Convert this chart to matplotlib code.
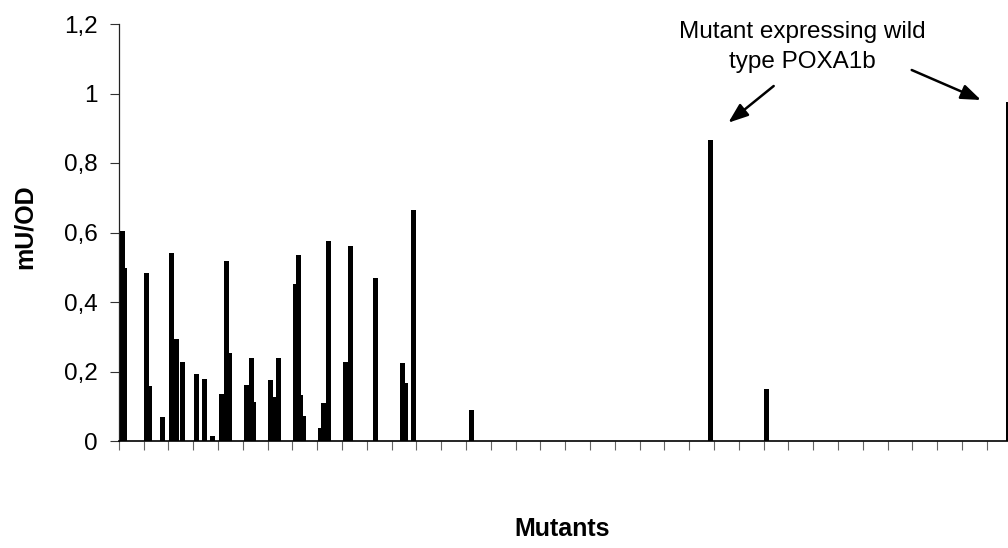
import matplotlib
matplotlib.use("Agg")
import matplotlib.pyplot as plt
from matplotlib.ticker import FuncFormatter
import numpy as np

plt.rcParams['font.family'] = ['Liberation Sans', 'DejaVu Sans']

# ---- data ----
mutant_group = [0, 0, 1, 1, 1, 2, 2, 2, 3, 3, 3, 4, 4, 4, 5, 5, 5, 6, 6, 6,
                7, 7, 7, 7, 8, 8, 8, 9, 9, 10, 11, 11, 11, 14, 23, 26, 35]
series_slot = [1, 2, 1, 2, 7, 1, 3, 5, 1, 4, 7, 1, 3, 4, 1, 3, 4, 1, 2, 4,
               1, 2, 3, 4, 1, 2, 4, 1, 3, 3, 4, 5, 8, 2, 8, 1, 8]
activity = [0.605, 0.497, 0.483, 0.158, 0.068, 0.542, 0.293, 0.228,
            0.193, 0.177, 0.015, 0.134, 0.517, 0.254, 0.162, 0.240, 0.113,
            0.175, 0.128, 0.238, 0.451, 0.534, 0.132, 0.073, 0.036, 0.110,
            0.576, 0.226, 0.560, 0.468, 0.225, 0.166, 0.664, 0.088, 0.866,
            0.150, 0.976]
y_ticks = [0, 0.2, 0.4, 0.6, 0.8, 1.0, 1.2]
n_categories = 36
annotation_lines = ["Mutant expressing wild", "type POXA1b"]
x_title = "Mutants"
y_title = "mU/OD"

# ---- figure ----
W, H = 1008, 548
fig = plt.figure(figsize=(W / 100, H / 100), dpi=100)
left_px, right_px, top_px, base_px = 118.7, 1008, 24, 441
ax = fig.add_axes([left_px / W, 1 - base_px / H,
                   (right_px - left_px) / W, (base_px - top_px) / H])

cat_px = 24.8
slot_w = 0.105
bar_w = 0.2
for g, s, v in zip(mutant_group, series_slot, activity):
    xc = g + 0.03 + slot_w * s
    ax.bar(xc, v, width=bar_w, color='black', edgecolor='none',
           zorder=2 + v)

ax.set_xlim(0, (right_px - left_px) / cat_px)
ax.set_ylim(0, 1.2)
ax.set_yticks(y_ticks)

def fmt(v, pos):
    s = ('%.1f' % v).rstrip('0').rstrip('.')
    return s.replace('.', ',')

ax.yaxis.set_major_formatter(FuncFormatter(fmt))
ax.set_xticks(np.arange(0, n_categories))
ax.set_xticklabels([])
ax.tick_params(axis='y', direction='out', length=6.5, width=0.8,
               color='#333333', labelsize=17.5, pad=8.5)
ax.tick_params(axis='x', direction='out', length=6.5, width=0.8,
               color='#666666')
for side in ['top', 'right']:
    ax.spines[side].set_visible(False)
ax.spines['left'].set_linewidth(0.9)
ax.spines['bottom'].set_linewidth(1.2)
ax.spines['left'].set_color('#222222')

fig.text(25 / W, 1 - 226.5 / H, y_title, rotation=90, ha='center',
         va='center', fontsize=18, fontweight='bold')
fig.text(562 / W, 1 - 529 / H, x_title, ha='center', va='center',
         fontsize=18, fontweight='bold')

def d(px, py):
    return ((px - left_px) / cat_px, (base_px - py) / 347.5)

for line, py in zip(annotation_lines, [31.7, 61.7]):
    tx, ty = d(802.5, py)
    ax.text(tx, ty, line, ha='center', va='center', fontsize=17.5,
            clip_on=False)
arrow = dict(arrowstyle='-|>,head_length=1.2,head_width=0.45',
             color='black', lw=1.8, shrinkA=0, shrinkB=0)
ax.annotate('', xy=d(728.3, 122.7), xytext=d(773.7, 86),
            arrowprops=arrow, annotation_clip=False)
ax.annotate('', xy=d(981, 100), xytext=d(911.7, 70),
            arrowprops=arrow, annotation_clip=False)

fig.savefig('out.png', dpi=100)
